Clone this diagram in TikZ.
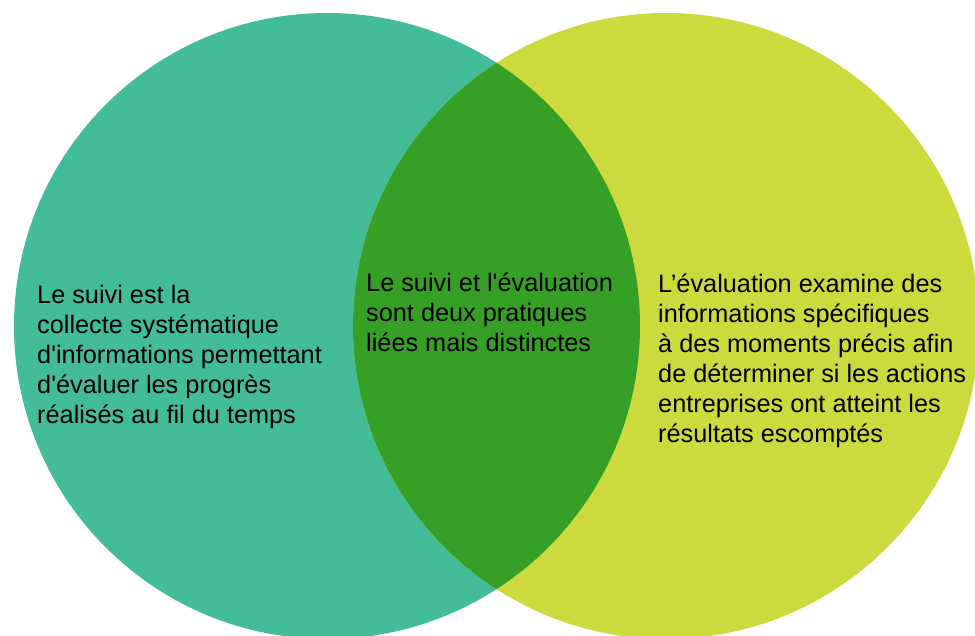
\documentclass[tikz,border=0pt]{standalone}
\usepackage{fontspec}
\setmainfont{Liberation Sans}
\definecolor{teal1}{HTML}{43BC9A}
\definecolor{lime1}{HTML}{CDDA3D}
\definecolor{green1}{HTML}{369F25}
\newcommand{\sq}{\textquotesingle}
\begin{document}
\begin{tikzpicture}[x=1pt,y=-1pt,
  txt/.style={anchor=base west,inner sep=0pt,align=left,font=\fontsize{25.3}{30}\selectfont,text=black}]
\useasboundingbox (0,0) rectangle (975,636);
\begin{scope}
\clip (0,0) rectangle (975,636);
\fill[teal1] (327,326) circle[radius=313];
\fill[lime1] (666,326) circle[radius=313];
\begin{scope}
\clip (327,326) circle[radius=313];
\fill[green1] (666,326) circle[radius=313];
\end{scope}
\end{scope}
\node[txt] (left) at (37,423) {Le suivi est la\\collecte systématique\\d\sq informations permettant\\d\sq évaluer les progrès\\réalisés au fil du temps};
\node[txt] (mid) at (366,352) {Le suivi et l\sq évaluation\\sont deux pratiques\\liées mais distinctes};
\node[txt] (right) at (658,442) {L’évaluation examine des\\informations spécifiques\\à des moments précis afin\\de déterminer si les actions\\entreprises ont atteint les\\résultats escomptés};
\end{tikzpicture}
\end{document}
